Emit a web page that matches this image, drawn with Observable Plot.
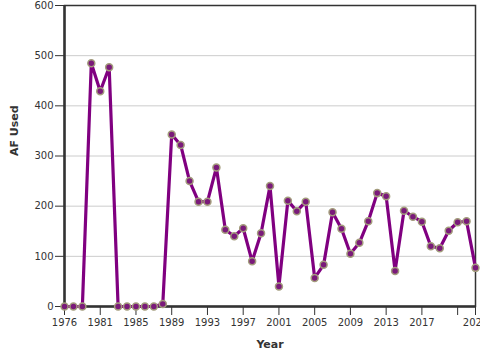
<!DOCTYPE html>
<html>
<head>
<meta charset="utf-8">
<script src="https://cdn.jsdelivr.net/npm/d3@7"></script>
<script src="https://cdn.jsdelivr.net/npm/@observablehq/plot@0.6"></script>
<style>
  html, body { margin: 0; padding: 0; background: white; }
  #chart { width: 480px; height: 360px; overflow: hidden; }
</style>
</head>
<body>
<div id="chart"></div>
<script>
const years = ["1976","1978","1979","1980","1981","1982","1983","1984","1985","1986","1987","1988",
  "1989","1990","1991","1992","1993","1994","1995","1996","1997","1998","1999","2000",
  "2001","2002","2003","2004","2005","2006","2007","2008","2009","2010","2011","2012",
  "2013","2014","2015","2016","2017","2018","2019","2020","2021","2022","2023"];
const afUsed = [0, 0, 0, 485, 429, 477, 0, 0, 0, 0, 0, 5,
  343, 322, 250, 209, 209, 277, 153, 140, 156, 90, 146, 240,
  40, 211, 190, 209, 57, 83, 188, 155, 105, 127, 170, 226,
  220, 71, 191, 179, 169, 120, 116, 151, 168, 170, 77];
const xTicks = ["1976","1981","1985","1989","1993","1997","2001","2005","2009","2013","2017","2021","2023"];
const xTickLabels = ["1976","1981","1985","1989","1993","1997","2001","2005","2009","2013","2017","","2023"];
const yTicks = [0, 100, 200, 300, 400, 500, 600];

const data = years.map((y, i) => ({year: y, value: afUsed[i]}));
const labelOf = new Map(xTicks.map((t, i) => [t, xTickLabels[i]]));

const chart = Plot.plot({
  width: 480,
  height: 360,
  marginLeft: 64,
  marginRight: 5,
  marginTop: 5,
  marginBottom: 54,
  style: {fontFamily: "DejaVu Sans, sans-serif", fontSize: "10px", color: "#333", background: "white"},
  x: {type: "point", domain: years, padding: 0},
  y: {domain: [0, 600]},
  marks: [
    Plot.gridY(yTicks, {stroke: "#cccccc", strokeOpacity: 1}),
    Plot.frame({stroke: "#333", strokeWidth: 1.5}),
    Plot.ruleY([0], {stroke: "#333", strokeWidth: 2.5}),
    Plot.ruleX([years[0]], {stroke: "#333", strokeWidth: 2.5}),
    Plot.axisY({ticks: yTicks, tickSize: 9, tickPadding: 2, label: null, stroke: "#333", fill: "#333", fontSize: 10}),
    Plot.axisX({ticks: xTicks, tickSize: 9, tickPadding: 3, label: null, tickFormat: d => labelOf.get(d), stroke: "#333", fill: "#333", fontSize: 10}),
    Plot.line(data, {x: "year", y: "value", stroke: "#800080", strokeWidth: 3.2}),
    Plot.dot(data, {x: "year", y: "value", r: 3.5, fill: "#7a1a7a", stroke: "#a39c7c", strokeWidth: 1.5}),
    Plot.text(["Year"], {text: d => d, frameAnchor: "bottom", dy: 41, fontWeight: "bold", fontSize: 11, fill: "#333"}),
    Plot.text(["AF Used"], {text: d => d, frameAnchor: "left", dx: -50, rotate: -90, fontWeight: "bold", fontSize: 11, fill: "#333"})
  ]
});
document.getElementById("chart").appendChild(chart);
</script>
</body>
</html>
